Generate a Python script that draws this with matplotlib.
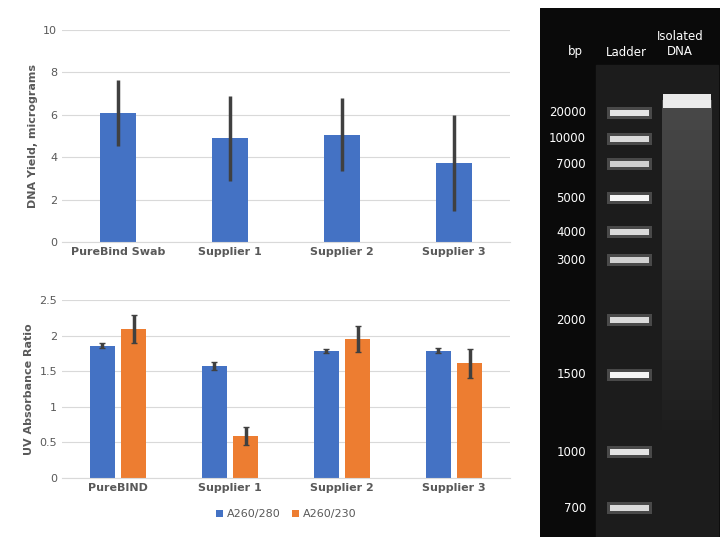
import matplotlib.pyplot as plt
from matplotlib.patches import Rectangle

yield_labels = ["PureBind Swab", "Supplier 1", "Supplier 2", "Supplier 3"]
yield_vals = [6.1, 4.9, 5.05, 3.72]
yield_err = [1.55, 2.0, 1.72, 2.25]

ratio_labels = ["PureBIND", "Supplier 1", "Supplier 2", "Supplier 3"]
a280 = [1.86, 1.57, 1.78, 1.79]
a280_err = [0.04, 0.06, 0.03, 0.04]
a230 = [2.09, 0.59, 1.95, 1.61]
a230_err = [0.2, 0.13, 0.18, 0.2]

ladder_bp = ["20000", "10000", "7000", "5000", "4000", "3000", "2000", "1500", "1000", "700"]
ladder_pos = [113, 139, 164, 198, 232, 260, 320, 375, 452, 508]  # pixel rows on gel
ladder_bright = [0.85, 0.8, 0.75, 0.95, 0.8, 0.75, 0.8, 0.95, 0.85, 0.8]

blue = "#4472C4"
orange = "#ED7D31"
W, H = 727, 545

fig = plt.figure(figsize=(7.27, 5.45), dpi=100)

def axrect(x0, y0, x1, y1):
    return [x0 / W, 1 - y1 / H, (x1 - x0) / W, (y1 - y0) / H]

def style(ax):
    for s in ["top", "right", "left"]:
        ax.spines[s].set_visible(False)
    ax.spines["bottom"].set_color("#d9d9d9")
    ax.tick_params(length=0, labelsize=8, colors="#595959")
    ax.grid(axis="y", color="#d9d9d9", lw=0.8)
    ax.set_axisbelow(True)

# top: DNA yield
ax1 = fig.add_axes(axrect(62, 30, 510, 242))
ax1.bar(range(4), yield_vals, width=0.32, color=blue, yerr=yield_err,
        error_kw=dict(ecolor="#404040", elinewidth=2.5, capsize=0))
ax1.set_ylim(0, 10)
ax1.set_yticks(range(0, 11, 2))
ax1.set_xlim(-0.5, 3.5)
ax1.set_xticks(range(4))
ax1.set_xticklabels(yield_labels, fontweight="bold")
ax1.set_ylabel("DNA Yield, micrograms", fontsize=8, fontweight="bold", color="#595959")
style(ax1)

# bottom: UV ratios
ax2 = fig.add_axes(axrect(62, 300, 510, 478))
x = range(4)
ek = dict(ecolor="#404040", elinewidth=2.5, capsize=2)
ax2.bar([i - 0.14 for i in x], a280, width=0.22, color=blue, yerr=a280_err, error_kw=ek, label="A260/280")
ax2.bar([i + 0.14 for i in x], a230, width=0.22, color=orange, yerr=a230_err, error_kw=ek, label="A260/230")
ax2.set_ylim(0, 2.5)
ax2.set_yticks([0, 0.5, 1, 1.5, 2, 2.5])
ax2.set_yticklabels(["0", "0.5", "1", "1.5", "2", "2.5"])
ax2.set_xlim(-0.5, 3.5)
ax2.set_xticks(list(x))
ax2.set_xticklabels(ratio_labels, fontweight="bold")
ax2.set_ylabel("UV Absorbance Ratio", fontsize=8, fontweight="bold", color="#595959")
style(ax2)
ax2.legend(loc="upper center", bbox_to_anchor=(0.5, -0.12), ncol=2, frameon=False,
           fontsize=8, handlelength=0.7, handleheight=0.7, labelcolor="#595959",
           columnspacing=1.0, handletextpad=0.3)

# gel image
axg = fig.add_axes(axrect(540, 8, 720, 537))
axg.set_xlim(540, 720)
axg.set_ylim(537, 8)
axg.axis("off")
axg.add_patch(Rectangle((540, 8), 180, 529, color="#0a0a0a"))
axg.add_patch(Rectangle((596, 65), 122, 472, color="#1c1c1c"))
# smear in isolated DNA lane
for k in range(40):
    top = 100 + k * 10
    axg.add_patch(Rectangle((662, top), 50, 10, color="white", alpha=max(0.0, 0.2 - k * 0.006), lw=0))
axg.add_patch(Rectangle((663, 94), 48, 14, color="white", alpha=0.9, lw=0))
for y, b in zip(ladder_pos, ladder_bright):
    axg.add_patch(Rectangle((607, y - 6), 45, 12, color="white", alpha=0.2, lw=0))
    axg.add_patch(Rectangle((610, y - 3), 39, 6, color="white", alpha=b, lw=0))
for lab, y in zip(ladder_bp, ladder_pos):
    axg.text(586, y, lab, color="white", fontsize=8.5, ha="right", va="center")
axg.text(575, 52, "bp", color="white", fontsize=8.5, ha="center", va="center")
axg.text(626, 52, "Ladder", color="white", fontsize=8.5, ha="center", va="center")
axg.text(680, 44, "Isolated\nDNA", color="white", fontsize=8.5, ha="center", va="center", linespacing=1.2)

fig.savefig("out.png", dpi=100, facecolor="white")
